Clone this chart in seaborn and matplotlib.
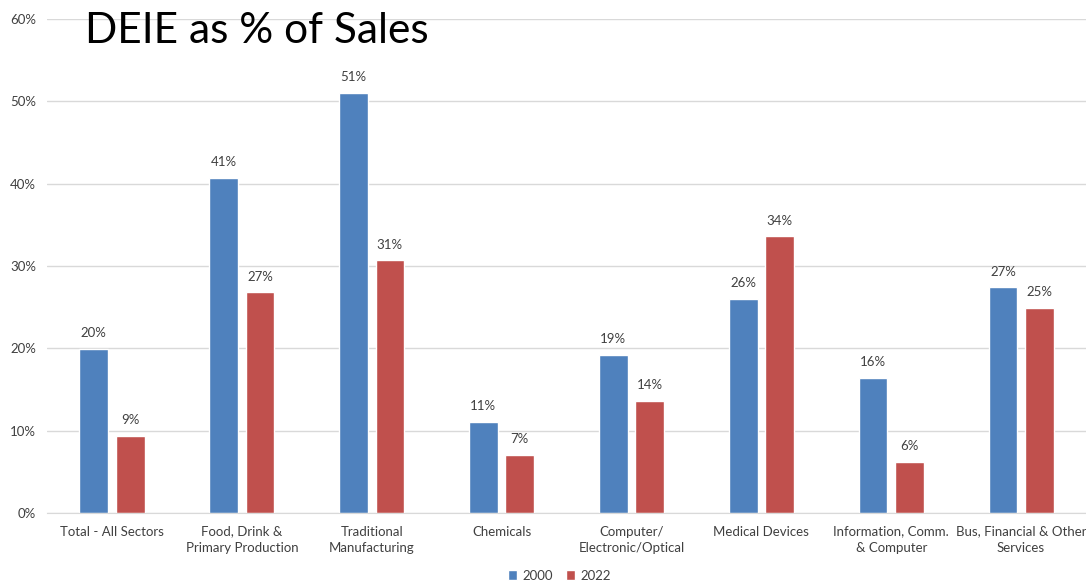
import pandas as pd
import matplotlib
matplotlib.use("Agg")
import matplotlib.pyplot as plt
import seaborn as sns

# categories and values
sectors = ["Total - All Sectors", "Food, Drink &\nPrimary Production", "Traditional\nManufacturing",
           "Chemicals", "Computer/\nElectronic/Optical", "Medical Devices",
           "Information, Comm.\n& Computer", "Bus, Financial & Other\nServices"]
years = ["2000", "2022"]
vals_2000 = [19.9, 40.7, 51.0, 11.1, 19.2, 26.0, 16.4, 27.4]
vals_2022 = [9.4, 26.8, 30.7, 7.1, 13.6, 33.6, 6.2, 24.9]

colors = {"2000": "#4F81BD", "2022": "#C0504D"}

df = pd.DataFrame({
    "sector": sectors * 2,
    "year": [years[0]] * len(sectors) + [years[1]] * len(sectors),
    "value": vals_2000 + vals_2022,
})

sns.set_style("white")
plt.rcParams["font.family"] = ["Lato", "DejaVu Sans"]

fig = plt.figure(figsize=(10.86, 5.83), dpi=100)
ax = fig.add_axes([0.0433, 0.12, 0.9567, 0.8474])

sns.barplot(data=df, x="sector", y="value", hue="year", palette=colors,
            width=0.56, gap=0.21, ax=ax, saturation=1, legend=True)

for cont in ax.containers:
    ax.bar_label(cont, fmt="{:.0f}%", padding=7, fontsize=9.5, color="#404040")

ax.set_ylim(0, 60)
ax.set_yticks(range(0, 61, 10))
ax.set_yticklabels([f"{t}%" for t in range(0, 61, 10)])
ax.set_xlim(-0.5, len(sectors) - 0.5)
ax.yaxis.grid(True, color="#d9d9d9", linewidth=1)
ax.set_axisbelow(True)
for s in ["top", "right", "left"]:
    ax.spines[s].set_visible(False)
ax.spines["bottom"].set_color("#d9d9d9")
ax.tick_params(axis="both", length=0, labelsize=9.5, colors="#404040")
ax.tick_params(axis="y", pad=8)
ax.tick_params(axis="x", pad=9)
for lbl in ax.get_xticklabels():
    lbl.set_linespacing(1.45)
ax.set_xlabel("")
ax.set_ylabel("")

handles, labels = ax.get_legend_handles_labels()
ax.get_legend().remove()
fig.legend(handles, labels, loc="lower center", bbox_to_anchor=(0.515, -0.018), ncol=2, frameon=False,
           fontsize=9.5, handlelength=0.7, handleheight=0.7, handletextpad=0.4, columnspacing=1.0,
           labelcolor="#404040")

fig.text(0.078, 0.947, "DEIE as % of Sales", fontsize=30.5, color="black", va="center", ha="left")

fig.savefig("out.png", dpi=100)
